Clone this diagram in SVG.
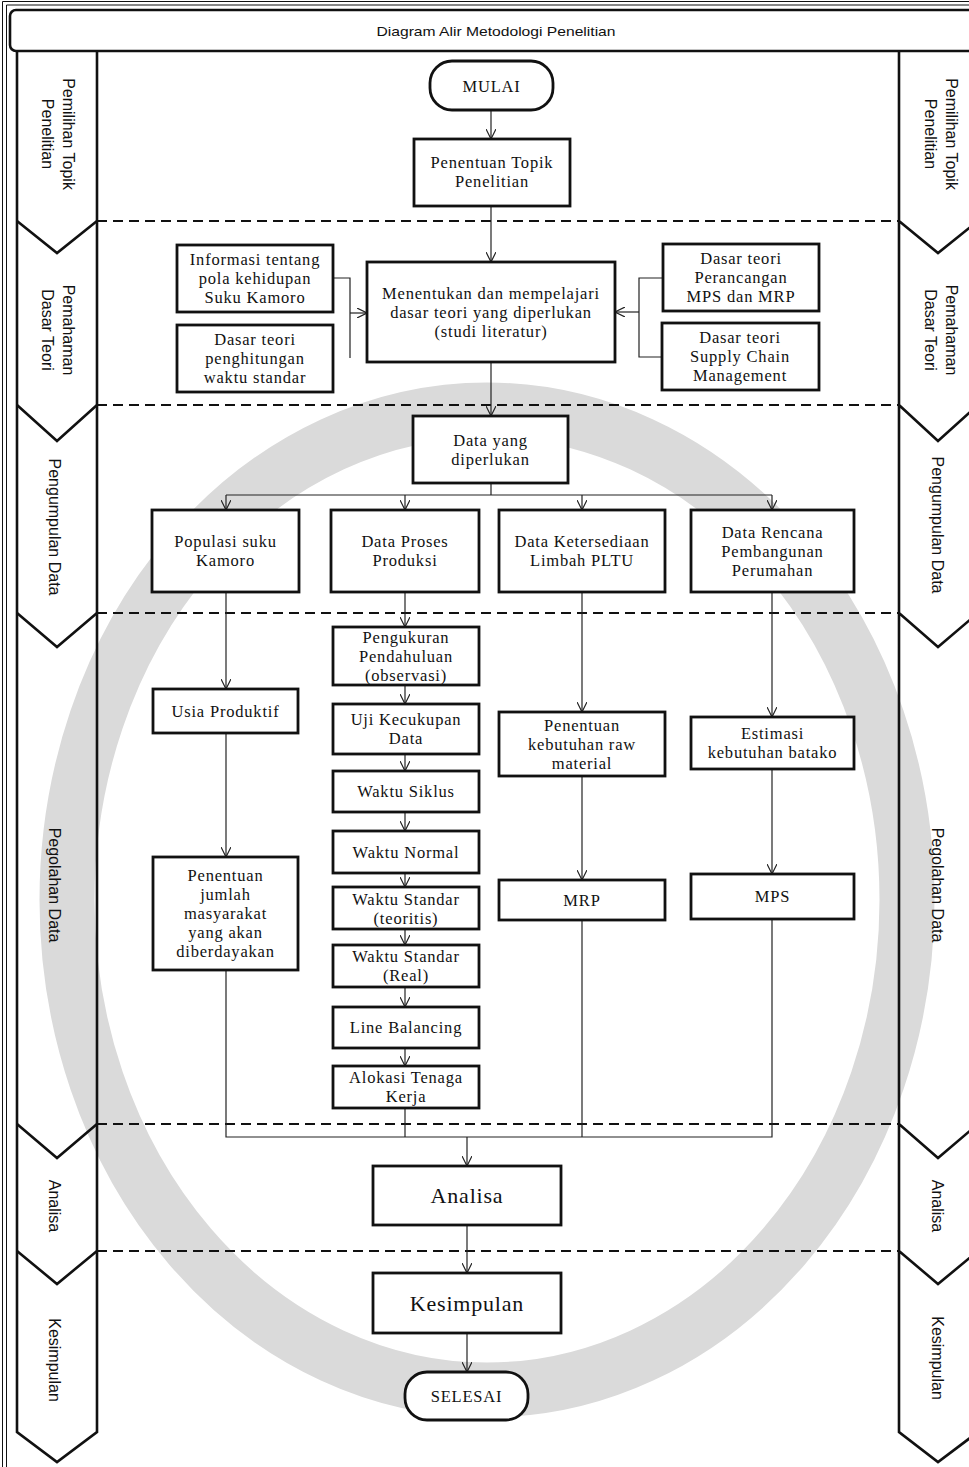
<svg xmlns="http://www.w3.org/2000/svg" width="969" height="1467" viewBox="0 0 969 1467">
<defs>
<style>
.bx{fill:#fff;stroke:#111;stroke-width:2.8}
.t{font-family:"Liberation Serif","Times New Roman",serif;font-size:16.5px;letter-spacing:0.8px;fill:#111;text-anchor:middle}
.tb{font-family:"Liberation Serif","Times New Roman",serif;font-size:22px;letter-spacing:0.8px;fill:#111;text-anchor:middle}
.ln{font-family:"Liberation Sans",Arial,sans-serif;font-size:16px;fill:#111;text-anchor:middle}
.c{fill:none;stroke:#222;stroke-width:1.2}
.ca{fill:none;stroke:#222;stroke-width:1.2;marker-end:url(#ah)}
.lane{fill:none;stroke:#111;stroke-width:2.6}
.dash{fill:none;stroke:#111;stroke-width:2;stroke-dasharray:10 6}
</style>
<marker id="ah" viewBox="0 0 10 10" refX="10" refY="5" markerWidth="10" markerHeight="10" markerUnits="userSpaceOnUse" orient="auto">
<path d="M0,0 L10,5 L0,10" fill="none" stroke="#222" stroke-width="1.2"/>
</marker>
</defs>
<rect width="969" height="1467" fill="#fff"/>
<g id="watermark">
<ellipse cx="487" cy="900" rx="420" ry="490" fill="none" stroke="#dadada" stroke-width="55"/>
</g>
<g id="frame">
<path d="M2.5,1470 V1.5 H975" fill="none" stroke="#111" stroke-width="1"/>
<path d="M6.5,1470 V5 H975" fill="none" stroke="#111" stroke-width="1"/>
<rect x="10" y="10" width="975" height="41" rx="6" fill="#fff" stroke="#111" stroke-width="2.6"/>
<text x="496" y="36" font-family="'Liberation Sans',Arial,sans-serif" font-size="13" fill="#111" text-anchor="middle" textLength="239" lengthAdjust="spacingAndGlyphs">Diagram Alir Metodologi Penelitian</text>
</g>
<g id="lanes">
<path class="lane" d="M17,51 V1432 L57,1462 L97,1432 V51"/>
<path class="lane" d="M17,221 L57,253 L97,221 M17,405 L57,441 L97,405 M17,613 L57,647 L97,613 M17,1124 L57,1158 L97,1124 M17,1251 L57,1284 L97,1251"/>
<path class="lane" d="M899,51 V1432 L938,1462 L978,1432 M899,221 L938,253 L978,221 M899,405 L938,441 L978,405 M899,613 L938,647 L978,613 M899,1124 L938,1158 L978,1124 M899,1251 L938,1284 L978,1251"/>
<path class="dash" d="M97,221 H899 M97,405 H899 M97,613 H899 M97,1124 H899 M97,1251 H899"/>
<g class="ln">
<text transform="translate(63,134) rotate(90)">Pemilihan Topik</text>
<text transform="translate(42,134) rotate(90)">Penelitian</text>
<text transform="translate(63,330) rotate(90)">Pemahaman</text>
<text transform="translate(42,330) rotate(90)">Dasar Teori</text>
<text transform="translate(49,527) rotate(90)">Pengumpulan Data</text>
<text transform="translate(49,885) rotate(90)">Pegolahan Data</text>
<text transform="translate(49,1206) rotate(90)">Analisa</text>
<text transform="translate(49,1360) rotate(90)">Kesimpulan</text>
<text transform="translate(946,134) rotate(90)">Pemilihan Topik</text>
<text transform="translate(925,134) rotate(90)">Penelitian</text>
<text transform="translate(946,330) rotate(90)">Pemahaman</text>
<text transform="translate(925,330) rotate(90)">Dasar Teori</text>
<text transform="translate(932,525) rotate(90)">Pengumpulan Data</text>
<text transform="translate(932,885) rotate(90)">Pegolahan Data</text>
<text transform="translate(932,1206) rotate(90)">Analisa</text>
<text transform="translate(932,1358) rotate(90)">Kesimpulan</text>
</g>
</g>
<g id="connectors">
<path class="ca" d="M491,110 V139"/>
<path class="ca" d="M491,206 V262"/>
<path class="c" d="M333,278 H350 V358"/>
<path class="ca" d="M350,313 H367"/>
<path class="c" d="M663,278 H639 V357 H662"/>
<path class="ca" d="M639,312 H615"/>
<path class="ca" d="M491,362 V416"/>
<path class="c" d="M491,483 V495 M226,495 H772"/>
<path class="ca" d="M226,495 V510"/>
<path class="ca" d="M405,495 V510"/>
<path class="ca" d="M582,495 V510"/>
<path class="ca" d="M772,495 V510"/>
<path class="ca" d="M226,592 V689"/>
<path class="ca" d="M226,733 V857"/>
<path class="c" d="M226,970 V1137 H772 V919"/>
<path class="ca" d="M405,592 V627"/>
<path class="ca" d="M405,685 V704"/>
<path class="ca" d="M405,754 V771"/>
<path class="ca" d="M405,812 V831"/>
<path class="ca" d="M405,873 V887"/>
<path class="ca" d="M405,929 V945"/>
<path class="ca" d="M405,987 V1007"/>
<path class="ca" d="M405,1048 V1066"/>
<path class="c" d="M405,1108 V1137"/>
<path class="ca" d="M582,592 V712"/>
<path class="ca" d="M582,776 V880"/>
<path class="c" d="M582,920 V1137"/>
<path class="ca" d="M772,592 V717"/>
<path class="ca" d="M772,769 V874"/>
<path class="ca" d="M467,1137 V1166"/>
<path class="ca" d="M467,1225 V1273"/>
<path class="ca" d="M467,1333 V1372"/>
</g>
<g id="mulai"><rect class="bx" x="430" y="61" width="123" height="49" rx="22"/><text class="t" x="491.5" y="91.5">MULAI</text></g>
<g id="topik"><rect class="bx" x="414" y="139" width="156" height="67"/><text class="t" x="492" y="168">Penentuan Topik</text><text class="t" x="492" y="187">Penelitian</text></g>
<g id="menentukan"><rect class="bx" x="367" y="262" width="248" height="100"/><text class="t" x="491" y="299">Menentukan dan mempelajari</text><text class="t" x="491" y="318">dasar teori yang diperlukan</text><text class="t" x="491" y="337">(studi literatur)</text></g>
<g id="informasi"><rect class="bx" x="177" y="245" width="156" height="67"/><text class="t" x="255" y="265">Informasi tentang</text><text class="t" x="255" y="284">pola kehidupan</text><text class="t" x="255" y="303">Suku Kamoro</text></g>
<g id="dasar-waktu"><rect class="bx" x="177" y="325" width="156" height="67"/><text class="t" x="255" y="345">Dasar teori</text><text class="t" x="255" y="364">penghitungan</text><text class="t" x="255" y="383">waktu standar</text></g>
<g id="dasar-mps"><rect class="bx" x="663" y="244" width="156" height="67"/><text class="t" x="741" y="264">Dasar teori</text><text class="t" x="741" y="283">Perancangan</text><text class="t" x="741" y="302">MPS dan MRP</text></g>
<g id="dasar-scm"><rect class="bx" x="662" y="323" width="157" height="67"/><text class="t" x="740" y="343">Dasar teori</text><text class="t" x="740" y="362">Supply Chain</text><text class="t" x="740" y="381">Management</text></g>
<g id="data-perlu"><rect class="bx" x="413" y="416" width="155" height="67"/><text class="t" x="490.5" y="445.5">Data yang</text><text class="t" x="490.5" y="464.5">diperlukan</text></g>
<g id="populasi"><rect class="bx" x="152" y="510" width="147" height="82"/><text class="t" x="225.5" y="547">Populasi suku</text><text class="t" x="225.5" y="566">Kamoro</text></g>
<g id="proses"><rect class="bx" x="331" y="510" width="148" height="82"/><text class="t" x="405" y="547">Data Proses</text><text class="t" x="405" y="566">Produksi</text></g>
<g id="limbah"><rect class="bx" x="499" y="510" width="166" height="82"/><text class="t" x="582" y="547">Data Ketersediaan</text><text class="t" x="582" y="566">Limbah PLTU</text></g>
<g id="rencana"><rect class="bx" x="691" y="510" width="163" height="82"/><text class="t" x="772.5" y="537.5">Data Rencana</text><text class="t" x="772.5" y="556.5">Pembangunan</text><text class="t" x="772.5" y="575.5">Perumahan</text></g>
<g id="usia"><rect class="bx" x="153" y="689" width="145" height="44"/><text class="t" x="225.5" y="716.5">Usia Produktif</text></g>
<g id="jumlah"><rect class="bx" x="153" y="857" width="145" height="113"/><text class="t" x="225.5" y="881">Penentuan</text><text class="t" x="225.5" y="900">jumlah</text><text class="t" x="225.5" y="919">masyarakat</text><text class="t" x="225.5" y="938">yang akan</text><text class="t" x="225.5" y="957">diberdayakan</text></g>
<g id="pengukuran"><rect class="bx" x="333" y="627" width="146" height="58"/><text class="t" x="406" y="643">Pengukuran</text><text class="t" x="406" y="662">Pendahuluan</text><text class="t" x="406" y="681">(observasi)</text></g>
<g id="uji"><rect class="bx" x="333" y="704" width="146" height="50"/><text class="t" x="406" y="725">Uji Kecukupan</text><text class="t" x="406" y="744">Data</text></g>
<g id="siklus"><rect class="bx" x="333" y="771" width="146" height="41"/><text class="t" x="406" y="797">Waktu Siklus</text></g>
<g id="normal"><rect class="bx" x="333" y="831" width="146" height="42"/><text class="t" x="406" y="857.5">Waktu Normal</text></g>
<g id="std-teoritis"><rect class="bx" x="333" y="887" width="146" height="42"/><text class="t" x="406" y="905">Waktu Standar</text><text class="t" x="406" y="924">(teoritis)</text></g>
<g id="std-real"><rect class="bx" x="333" y="945" width="146" height="42"/><text class="t" x="406" y="962">Waktu Standar</text><text class="t" x="406" y="981">(Real)</text></g>
<g id="balancing"><rect class="bx" x="333" y="1007" width="146" height="41"/><text class="t" x="406" y="1033">Line Balancing</text></g>
<g id="alokasi"><rect class="bx" x="333" y="1066" width="146" height="42"/><text class="t" x="406" y="1083">Alokasi Tenaga</text><text class="t" x="406" y="1102">Kerja</text></g>
<g id="raw"><rect class="bx" x="499" y="712" width="166" height="64"/><text class="t" x="582" y="731">Penentuan</text><text class="t" x="582" y="750">kebutuhan raw</text><text class="t" x="582" y="769">material</text></g>
<g id="mrp"><rect class="bx" x="499" y="880" width="166" height="40"/><text class="t" x="582" y="905.5">MRP</text></g>
<g id="estimasi"><rect class="bx" x="691" y="717" width="163" height="52"/><text class="t" x="772.5" y="739">Estimasi</text><text class="t" x="772.5" y="758">kebutuhan batako</text></g>
<g id="mps"><rect class="bx" x="691" y="874" width="163" height="45"/><text class="t" x="772.5" y="902">MPS</text></g>
<g id="analisa"><rect class="bx" x="373" y="1166" width="188" height="59"/><text class="tb" x="467" y="1203">Analisa</text></g>
<g id="kesimpulan"><rect class="bx" x="373" y="1273" width="188" height="60"/><text class="tb" x="467" y="1311">Kesimpulan</text></g>
<g id="selesai"><rect class="bx" x="405" y="1372" width="123" height="48" rx="22"/><text class="t" x="466.5" y="1402">SELESAI</text></g>
</svg>
